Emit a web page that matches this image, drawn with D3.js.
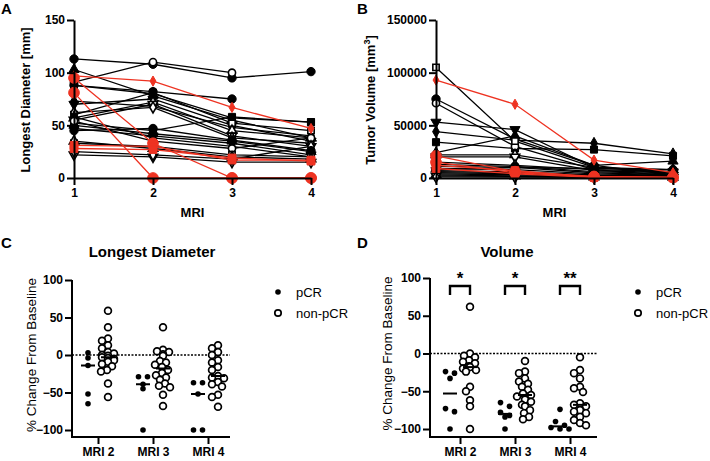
<!DOCTYPE html>
<html><head><meta charset="utf-8">
<script src="https://cdn.jsdelivr.net/npm/d3@7"></script>
<style>body{margin:0;background:#fff}</style>
</head><body><svg id="c" width="710" height="461"></svg>
<script>
// ---------------- DATA ----------------
const mriPoints = [1, 2, 3, 4];
const diamTicks = [0, 50, 100, 150];
const volTicks = [0, 50000, 100000, 150000];
// Panel A: longest diameter [mm] per patient at MRI 1..4 (null = missing)
const diamBlack = [
  [113, 108, 95, 101], [88, 80, 57, 53], [103, 78, 55, 38], [70, 75, 50, 35],
  [73, 68, 48, 40], [91, 110, 100, null], [60, 81, 52, 45], [57, 72, 45, 38],
  [55, 70, 40, 30], [62, 67, 38, 33], [88, 82, 75, null], [52, 45, 58, 53],
  [50, 42, 35, 25], [47, 40, 33, 22], [58, 38, 30, 20], [54, 35, 28, 38],
  [33, 30, 22, 20], [35, 28, 20, 18], [22, 20, 15, 15], [25, 22, 18, 30],
  [45, 47, 36, 26]
];
const diamRed = [
  [97, 92, 67, 47], [95, 33, 0, 0], [81, 0, 0, 0], [31, 30, 17, 17], [28, 27, 19, 16]
];
// Panel B: tumor volume [mm^3]
const volBlack = [
  [75000, 37000, 12000, 3000], [34000, 28000, 27000, 21000], [24000, 40000, 12000, 16000],
  [53000, 46000, 10000, 6000], [44000, 36000, 33000, 23000], [71000, 30000, 8000, 2000],
  [105000, 35000, 10000, 5000], [22000, 22000, 10000, 8000], [20000, 20000, 7000, 5000],
  [15000, 12000, 8000, 6000], [13000, 11000, 6000, 4000], [11000, 10000, 5000, 3000],
  [9000, 8000, 4000, 2500], [7000, 6000, 3000, 2000], [6000, 5000, 2500, 1500],
  [5000, 4000, 2000, 1000], [4000, 3000, 1500, 800], [3000, 2000, 1000, 600],
  [2000, 1500, 800, 500], [1000, 800, 500, 300], [8000, 10000, 9000, 8000]
];
const volRed = [
  [93000, 70000, 17000, 5000], [21000, 6000, 1500, 800], [15000, 5000, 1000, 500],
  [12000, 7000, 800, 300], [9000, 4000, 500, 0]
];
// Panels C & D: % change from baseline
const mriCats = ["MRI 2", "MRI 3", "MRI 4"];
const groupNames = ["pCR", "non-pCR"];
const pctTicks = [-100, -50, 0, 50, 100];
const diamChangePCR = [
  [3, -4, -14, -52, -65],
  [-29, -29, -39, -45, -100],
  [-37, -37, -52, -100, -100]
];
const diamChangeNon = [
  [59, 37, 22, 19, 13, 9, 4, 2, 0, -1, -3, -4, -5, -7, -9, -12, -15, -20, -22, -38, -56],
  [37, 7, 4, 5, 1, -1, -8, -10, -13, -16, -20, -24, -27, -30, -33, -38, -41, -43, -53, -68],
  [13, 9, 4, 0, -7, -10, -16, -20, -28, -30, -31, -36, -39, -42, -53, -56, -69]
];
const volChangePCR = [
  [-26, -24, -33, -73, -77, -100],
  [-65, -70, -78, -82, -84, -100],
  [-74, -90, -95, -98, -100, -100]
];
const volChangeNon = [
  [62, 0, -3, -5, -9, -11, -13, -17, -18, -20, -22, -24, -44, -50, -62, -70, -100],
  [-10, -24, -26, -33, -37, -40, -44, -48, -53, -55, -57, -61, -64, -68, -70, -75, -79, -84, -87],
  [-5, -22, -26, -33, -44, -46, -51, -66, -68, -70, -75, -77, -79, -84, -88, -92, -95]
];
const volSig = ["*", "*", "**"];

// ---------------- DRAWING ----------------
const svg = d3.select("#c");
const RED = "#ee3322";
const FONT = "Arial, 'Liberation Sans', sans-serif";

function styleAxis(g) {
  g.selectAll("path.domain").attr("stroke", "#000").attr("stroke-width", 2);
  g.selectAll(".tick line").attr("stroke", "#000").attr("stroke-width", 2);
  g.selectAll(".tick text").attr("font-family", FONT).attr("font-weight", "bold")
    .attr("font-size", 12).attr("fill", "#000");
}
function label(x, y, txt, opts = {}) {
  const t = svg.append("text").attr("x", x).attr("y", y).text(txt)
    .attr("font-family", FONT).attr("font-size", opts.size || 13)
    .attr("font-weight", opts.weight || "bold").attr("fill", "#000")
    .attr("text-anchor", opts.anchor || "middle");
  if (opts.rot) t.attr("transform", `rotate(-90,${x},${y})`);
  return t;
}

const markerCycle = [
  { type: d3.symbolCircle, fill: true, size: 55 },
  { type: d3.symbolSquare, fill: true, size: 50 },
  { type: d3.symbolTriangle, fill: true, size: 45 },
  { type: d3.symbolTriangle, fill: true, size: 45, rot: 180 },
  { type: d3.symbolDiamond, fill: true, size: 40 },
  { type: d3.symbolCircle, fill: false, size: 40 },
  { type: d3.symbolSquare, fill: false, size: 40 },
  { type: d3.symbolTriangle, fill: false, size: 38 },
  { type: d3.symbolTriangle, fill: false, size: 38, rot: 180 },
  { type: d3.symbolDiamond, fill: false, size: 35 }
];
const redMarkers = [
  { type: d3.symbolDiamond, fill: true, size: 30 },
  { type: d3.symbolCircle, fill: true, size: 90 },
  { type: d3.symbolCircle, fill: true, size: 90 },
  { type: d3.symbolSquare, fill: true, size: 60 },
  { type: d3.symbolSquare, fill: true, size: 60 }
];

function linePanel(cfg) {
  const x = d3.scaleLinear().domain([1, 4]).range([cfg.x0, cfg.x1]);
  const y = d3.scaleLinear().domain([0, cfg.ticks[cfg.ticks.length - 1]]).range([cfg.yb, cfg.yt]);
  const g = svg.append("g");
  const line = d3.line().defined(d => d != null).x((d, i) => x(mriPoints[i])).y(d => y(d));
  const drawSeries = (series, color, markers) => {
    series.forEach((s, si) => {
      const m = markers[si % markers.length];
      g.append("path").attr("d", line(s)).attr("fill", "none")
        .attr("stroke", color).attr("stroke-width", 1.3);
      const sym = d3.symbol().type(m.type).size(m.size);
      s.forEach((v, i) => {
        if (v == null) return;
        g.append("path").attr("d", sym())
          .attr("transform", `translate(${x(mriPoints[i])},${y(v)})` + (m.rot ? ` rotate(${m.rot})` : ""))
          .attr("fill", m.fill ? color : "#fff").attr("stroke", color)
          .attr("stroke-width", m.fill ? 1 : 1.6);
      });
    });
  };
  drawSeries(cfg.black, "#000", markerCycle);
  drawSeries(cfg.red, RED, redMarkers);
  const ax = svg.append("g").attr("transform", `translate(${cfg.x0},0)`)
    .call(d3.axisLeft(y).tickValues(cfg.ticks).tickFormat(d3.format("d")).tickSize(7).tickPadding(2).tickSizeOuter(0));
  styleAxis(ax);
  const bx = svg.append("g").attr("transform", `translate(0,${cfg.yb})`)
    .call(d3.axisBottom(x).tickValues(mriPoints).tickFormat(d3.format("d")).tickSize(7).tickPadding(3).tickSizeOuter(0));
  styleAxis(bx);
  label((cfg.x0 + cfg.x1) / 2, 217, "MRI");
}

linePanel({ x0: 74, x1: 311, yt: 20, yb: 178, ticks: diamTicks, black: diamBlack, red: diamRed });
linePanel({ x0: 436, x1: 673, yt: 20, yb: 178, ticks: volTicks, black: volBlack, red: volRed });
label(30, 100, "Longest Diameter [mm]", { rot: true, size: 13 });
const tv = label(375, 100, "Tumor Volume [mm", { rot: true, size: 13 });
tv.append("tspan").text("3").attr("font-size", 9).attr("dy", -5);
tv.append("tspan").text("]").attr("dy", 5);

// ---- scatter panels ----
function swarm(values, cx, y, d, maxOff) {
  const pts = values.map(v => ({ v, y: y(v) })).sort((a, b) => a.y - b.y);
  const placed = [];
  for (const p of pts) {
    let best = null, bestHit = Infinity;
    for (let k = 0; k < 40; k++) {
      const o = k === 0 ? 0 : (k % 2 ? -1 : 1) * Math.ceil(k / 2);
      if (Math.abs(o) > maxOff) break;
      const hit = placed.filter(q => (q.x - (cx + o)) ** 2 + (q.y - p.y) ** 2 < d * d).length;
      if (hit === 0) { best = o; break; }
      if (hit < bestHit) { bestHit = hit; best = o; }
    }
    p.x = cx + best; placed.push(p);
  }
  return pts;
}
// symmetric rows: points at (nearly) equal y are spread evenly around the centre
function rows(values, cx, y, tol, gap) {
  const pts = values.map(v => ({ v, y: y(v) })).sort((a, b) => a.y - b.y);
  const groups = [];
  pts.forEach(p => {
    const last = groups[groups.length - 1];
    if (last && Math.abs(p.y - last[0].y) < tol) last.push(p); else groups.push([p]);
  });
  groups.forEach(gr => gr.forEach((p, j) => { p.x = cx + (j - (gr.length - 1) / 2) * gap; }));
  return pts;
}

function scatterPanel(cfg) {
  const y = d3.scaleLinear().domain([-100, 100]).range([cfg.yb, cfg.yt]);
  const x = d3.scalePoint().domain(mriCats).range([cfg.c0, cfg.c2]);
  const g = svg.append("g");
  g.append("line").attr("x1", cfg.ax).attr("x2", cfg.axEnd).attr("y1", y(0)).attr("y2", y(0))
    .attr("stroke", "#000").attr("stroke-width", 1.5).attr("stroke-dasharray", "2,1.5");
  mriCats.forEach((c, ci) => {
    const groups = [cfg.pcr[ci], cfg.non[ci]];
    groups.forEach((vals, gi) => {
      const cx = x(c) + (gi === 0 ? -10 : 10);
      const r = gi === 0 ? 2.8 : 3.4;
      const pts = gi === 0 ? rows(vals, cx, y, 4.5, 9) : swarm(vals, cx, y, 6, 8);
      pts.forEach(p => {
        g.append("circle").attr("cx", p.x).attr("cy", p.y).attr("r", r)
          .attr("fill", gi === 0 ? "#000" : "#fff").attr("stroke", "#000")
          .attr("stroke-width", gi === 0 ? 0 : 1.7);
      });
      const med = d3.median(vals);
      g.append("line").attr("x1", cx - 7).attr("x2", cx + 7).attr("y1", y(med)).attr("y2", y(med))
        .attr("stroke", "#000").attr("stroke-width", 2);
    });
  });
  const ax = svg.append("g").attr("transform", `translate(${cfg.ax},0)`)
    .call(d3.axisLeft(y).tickValues(pctTicks).tickSize(7).tickPadding(2).tickSizeOuter(0));
  styleAxis(ax);
  ax.select("path.domain").remove();
  svg.append("line").attr("x1", cfg.ax).attr("x2", cfg.ax).attr("y1", cfg.yt).attr("y2", cfg.xy + 1)
    .attr("stroke", "#000").attr("stroke-width", 2);
  const bx = svg.append("g").attr("transform", `translate(0,${cfg.xy})`)
    .call(d3.axisBottom(x).tickSize(7).tickPadding(3).tickSizeOuter(0));
  styleAxis(bx);
  bx.select("path.domain").remove();
  svg.append("line").attr("x1", cfg.ax - 1).attr("x2", cfg.axEnd).attr("y1", cfg.xy).attr("y2", cfg.xy)
    .attr("stroke", "#000").attr("stroke-width", 2);
  label(cfg.ylx, (cfg.yt + cfg.yb) / 2, "% Change From Baseline", { rot: true, size: 13.5, weight: "normal" });
  label(cfg.titleX, 257, cfg.title, { size: 15 });
  groupNames.forEach((n, i) => {
    const ly = 292 + i * 21;
    svg.append("circle").attr("cx", cfg.legX).attr("cy", ly).attr("r", i === 0 ? 2.8 : 3.2)
      .attr("fill", i === 0 ? "#000" : "#fff").attr("stroke", "#000").attr("stroke-width", i === 0 ? 0 : 1.7);
    label(cfg.legX + 18, ly + 5, n, { anchor: "start", weight: "normal", size: 13 });
  });
  if (cfg.sig) {
    mriCats.forEach((c, ci) => {
      const a = x(c) - 10, b = x(c) + 10;
      svg.append("path").attr("d", `M${a},295V286H${b}V295`).attr("fill", "none")
        .attr("stroke", "#000").attr("stroke-width", 2.4);
      label(x(c), 284, cfg.sig[ci], { size: 17 });
    });
  }
}

scatterPanel({ ax: 72, axEnd: 230, yt: 280, yb: 430, xy: 437, c0: 98, c2: 208,
  pcr: diamChangePCR, non: diamChangeNon, ylx: 36, title: "Longest Diameter", titleX: 152, legX: 278 });
scatterPanel({ ax: 430, axEnd: 597, yt: 278, yb: 429, xy: 437, c0: 460, c2: 570,
  pcr: volChangePCR, non: volChangeNon, ylx: 392, title: "Volume", titleX: 507, legX: 638, sig: volSig });

label(1, 14, "A", { anchor: "start", size: 15 });
label(357, 14, "B", { anchor: "start", size: 15 });
label(1, 248, "C", { anchor: "start", size: 15 });
label(357, 248, "D", { anchor: "start", size: 15 });
</script></body></html>
